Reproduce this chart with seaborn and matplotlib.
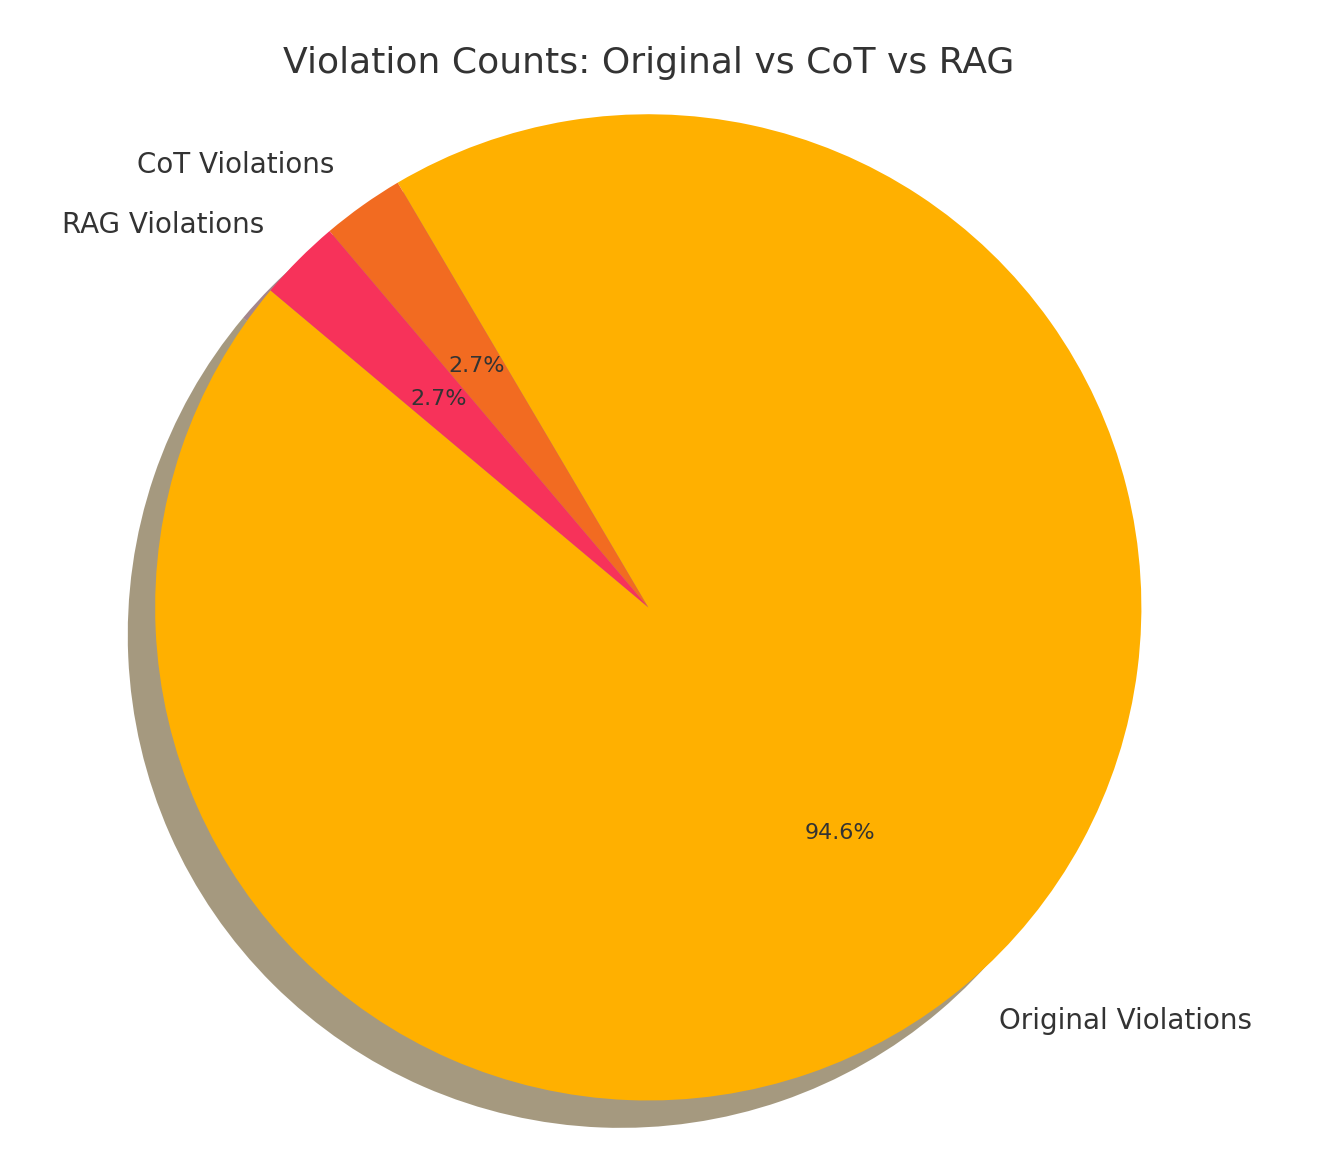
import matplotlib
matplotlib.use("Agg")
import matplotlib.pyplot as plt
import seaborn as sns

sns.set_theme(style="white")
plt.rcParams['font.family'] = ['DejaVu Sans']
plt.rcParams['text.color'] = '#333333'

# data
labels = ['Original Violations', 'CoT Violations', 'RAG Violations']
counts = [35, 1, 1]
colors = ['#FFB000', '#F26B21', '#F7325A']

fig, ax = plt.subplots(figsize=(13.23, 11.68), dpi=100)
wedges, texts, autotexts = ax.pie(
    counts, labels=labels, colors=colors, autopct='%1.1f%%',
    startangle=140, shadow={'ox': -0.04, 'oy': -0.04},
    wedgeprops={'linewidth': 0},
    textprops={'fontsize': 20, 'color': '#333333'})
for t in autotexts:
    t.set_fontsize(16)
ax.set_title('Violation Counts: Original vs CoT vs RAG', fontsize=26, color='#333333')
ax.axis('equal')
fig.subplots_adjust(left=0.08, right=0.90, top=0.93, bottom=0.03)
plt.savefig('out.png', dpi=100)
